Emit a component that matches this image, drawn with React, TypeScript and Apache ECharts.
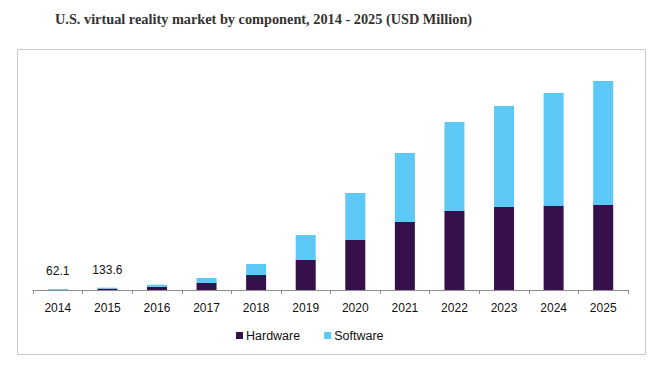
import React, { useEffect, useRef } from "react";
import * as echarts from "echarts";

const years = ["2014", "2015", "2016", "2017", "2018", "2019", "2020", "2021", "2022", "2023", "2024", "2025"];
const hardware = [20, 80, 191, 406, 870, 1740, 2900, 3944, 4582, 4814, 4872, 4930];
const software = [42.1, 53.6, 116, 290, 638, 1450, 2726, 4002, 5162, 5858, 6554, 7192];
const totalLabels = ["62.1", "133.6", "", "", "", "", "", "", "", "", "", ""];

const HW_COLOR = "#35104a";
const SW_COLOR = "#5bc8f5";
const FONT = "Arial, 'Liberation Sans', sans-serif";

export default function App() {
  const ref = useRef<HTMLDivElement>(null);
  useEffect(() => {
    if (!ref.current) return;
    const chart = echarts.init(ref.current, null, { renderer: "svg" });
    chart.setOption({
      animation: false,
      backgroundColor: "#ffffff",
      title: {
        text: "U.S. virtual reality market by component, 2014 - 2025 (USD Million)",
        left: 50,
        top: 7,
        textStyle: {
          fontFamily: "Georgia, 'Liberation Serif', 'DejaVu Serif', serif",
          fontWeight: "bold",
          fontSize: 14.3,
          color: "#333333",
        },
      },
      graphic: [
        {
          type: "rect",
          shape: { x: 17.5, y: 49.5, width: 628, height: 305 },
          style: { fill: "none", stroke: "#c8c8c8", lineWidth: 1 },
          silent: true,
          z: -1,
        },
      ],
      legend: {
        data: ["Hardware", "Software"],
        left: 231,
        top: 324,
        itemWidth: 7,
        itemHeight: 7,
        itemGap: 24,
        icon: "rect",
        textStyle: { fontFamily: FONT, fontSize: 12.5, color: "#111111", padding: [0, 0, 0, -2] },
      },
      grid: { left: 33, right: 31, top: 60, bottom: 77 },
      xAxis: {
        type: "category",
        data: years,
        axisLine: { lineStyle: { color: "#8c8c8c", width: 1 } },
        axisTick: { show: true, length: 4, lineStyle: { color: "#8c8c8c" } },
        axisLabel: { fontFamily: FONT, fontSize: 12, color: "#111111", margin: 12 },
      },
      yAxis: {
        type: "value",
        min: 0,
        max: 13340,
        show: false,
        splitLine: { show: false },
      },
      series: [
        {
          name: "Hardware",
          type: "bar",
          stack: "total",
          barWidth: 20,
          itemStyle: { color: HW_COLOR },
          data: hardware,
        },
        {
          name: "Software",
          type: "bar",
          stack: "total",
          barWidth: 20,
          itemStyle: { color: SW_COLOR },
          data: software.map((v, i) => ({
            value: v,
            label: {
              show: totalLabels[i] !== "",
              position: "top",
              distance: 12,
              formatter: totalLabels[i],
              fontFamily: FONT,
              fontSize: 12,
              color: "#111111",
            },
          })),
        },
      ],
    });
    return () => chart.dispose();
  }, []);
  return (
    <div
      ref={ref}
      style={{ position: "fixed", left: 0, top: 0, width: 659, height: 367 }}
    />
  );
}
